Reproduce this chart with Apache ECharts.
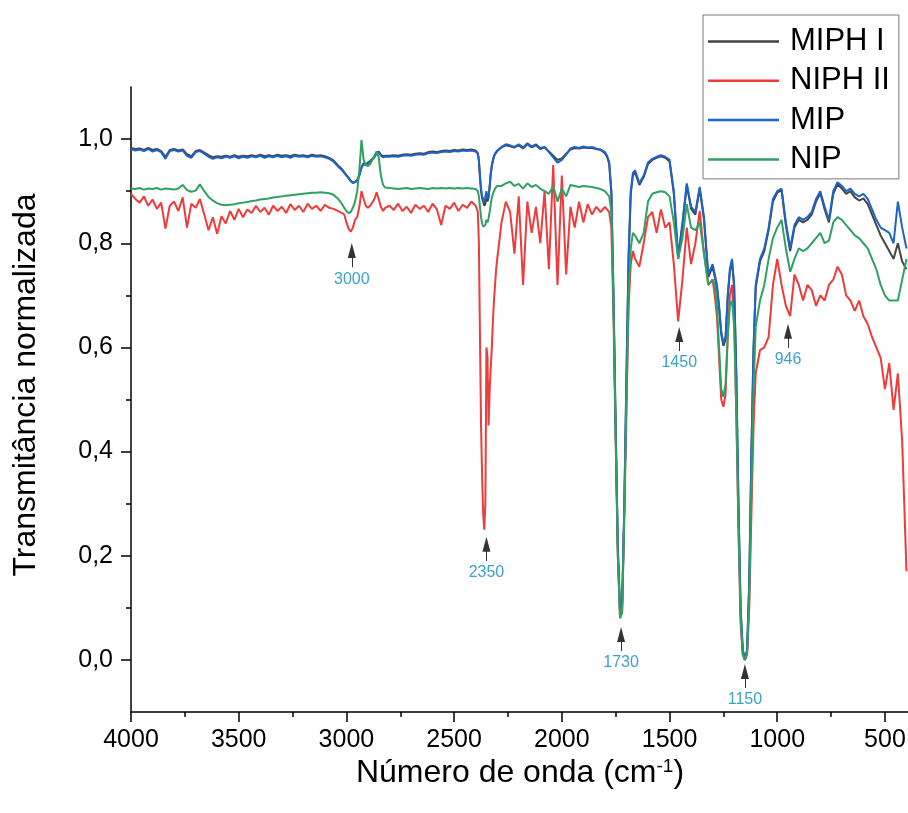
<!DOCTYPE html>
<html>
<head>
<meta charset="utf-8">
<script src="https://cdn.jsdelivr.net/npm/echarts@6/dist/echarts.min.js"></script>
<style>
html,body{margin:0;padding:0;background:#fff;}
#chart{width:908px;height:813px;}
</style>
</head>
<body>
<div id="chart"></div>
<script>
// Wavenumber grid (cm-1)
const wn = [
4000,3980,3960,3940,3920,3900,3880,3860,3840,3820,3800,3780,3760,3740,3720,3700,3680,3660,3640,3620,3600,3580,3560,3540,3520,3500,3480,3460,3440,3420,3400,3380,3360,3340,3320,3300,3280,3260,3240,3220,3200,3180,3160,3140,3120,3100,3080,3060,3040,3020,
3010,3000,2990,2980,2970,2960,2950,2940,2930,2920,2910,2900,2890,2880,2870,2860,2850,2840,2830,2820,
2800,2780,2760,2740,2720,2700,2680,2660,2640,2620,2600,2580,2560,2540,2520,2500,2480,2460,2440,2420,2400,
2395,2390,2385,2380,2375,2370,2365,2360,2355,2350,2345,2340,2335,2330,2325,2320,2315,2310,2305,2300,
2280,2260,2240,2220,2200,2180,2160,2140,2120,2100,2080,2060,2040,2020,2000,1980,1960,1940,1920,1900,1880,1860,1840,1820,1800,
1790,1780,1770,1760,1750,1740,1730,1720,1710,1700,1690,1680,1670,1660,
1640,1620,1600,1580,1560,1540,1520,1500,1480,1460,1440,1420,1400,1380,1360,1340,1320,1300,
1290,1280,1270,1260,1250,1240,1230,1220,1210,1200,1190,1180,1170,1160,1150,1140,1130,1120,1110,1100,
1080,1060,1040,1020,1000,980,960,940,920,900,880,860,840,820,800,780,760,740,720,700,680,660,640,620,600,580,560,540,520,500,480,460,440,420,400
];

const miphI = [
0.983,0.981,0.982,0.979,0.983,0.979,0.981,0.977,0.966,0.979,0.981,0.978,0.980,0.971,0.967,0.977,0.979,0.974,0.969,0.965,0.967,0.966,0.968,0.966,0.969,0.966,0.968,0.967,0.969,0.967,0.970,0.967,0.969,0.967,0.970,0.968,0.969,0.967,0.970,0.968,0.969,0.967,0.970,0.968,0.969,0.967,0.964,0.959,0.950,0.942,
0.936,0.931,0.926,0.920,0.916,0.917,0.921,0.931,0.946,0.954,0.951,0.955,0.958,0.962,0.967,0.974,0.976,0.970,0.967,0.968,
0.968,0.969,0.968,0.970,0.971,0.970,0.972,0.973,0.972,0.975,0.976,0.975,0.977,0.978,0.977,0.979,0.978,0.980,0.979,0.980,0.978,
0.977,0.973,0.958,0.925,0.900,0.886,0.880,0.872,0.876,0.895,0.880,0.888,0.908,0.932,0.948,0.958,0.966,0.971,0.974,0.977,
0.984,0.988,0.986,0.984,0.988,0.982,0.990,0.984,0.988,0.981,0.984,0.976,0.968,0.960,0.963,0.972,0.980,0.983,0.982,0.984,0.983,0.983,0.981,0.979,0.973,
0.966,0.952,0.895,0.690,0.440,0.210,0.095,0.105,0.290,0.540,0.770,0.895,0.930,0.936,
0.912,0.927,0.952,0.960,0.964,0.967,0.964,0.957,0.895,0.770,0.835,0.912,0.866,0.855,0.905,0.845,0.735,0.755,
0.735,0.715,0.675,0.625,0.603,0.615,0.695,0.745,0.765,0.715,0.545,0.295,0.095,0.018,0.000,0.018,0.145,0.395,0.595,0.715,
0.765,0.785,0.825,0.880,0.897,0.902,0.835,0.785,0.830,0.845,0.840,0.845,0.855,0.880,0.896,0.865,0.840,0.895,0.913,0.905,0.895,0.900,0.888,0.882,0.886,0.875,0.855,0.835,0.815,0.800,0.785,0.770,0.800,0.765,0.750
];

const niphII = [
0.895,0.885,0.878,0.890,0.872,0.884,0.866,0.878,0.828,0.872,0.880,0.862,0.888,0.830,0.876,0.868,0.885,0.855,0.825,0.850,0.818,0.852,0.838,0.862,0.845,0.866,0.850,0.865,0.858,0.872,0.860,0.868,0.855,0.872,0.862,0.870,0.858,0.875,0.864,0.872,0.860,0.876,0.866,0.872,0.862,0.874,0.868,0.866,0.862,0.858,
0.855,0.840,0.828,0.822,0.830,0.845,0.850,0.870,0.900,0.885,0.872,0.868,0.872,0.878,0.885,0.898,0.885,0.870,0.862,0.868,
0.872,0.864,0.876,0.862,0.870,0.858,0.874,0.866,0.872,0.860,0.876,0.865,0.835,0.872,0.866,0.878,0.862,0.874,0.868,0.880,0.872,
0.870,0.860,0.800,0.620,0.450,0.350,0.280,0.250,0.300,0.600,0.580,0.450,0.520,0.560,0.600,0.650,0.690,0.720,0.750,0.770,
0.840,0.880,0.860,0.780,0.890,0.720,0.880,0.820,0.870,0.800,0.900,0.750,0.950,0.720,0.930,0.740,0.870,0.830,0.880,0.840,0.875,0.855,0.870,0.860,0.870,
0.865,0.860,0.830,0.660,0.420,0.200,0.085,0.095,0.280,0.480,0.680,0.760,0.785,0.770,
0.755,0.800,0.850,0.860,0.820,0.865,0.830,0.840,0.760,0.650,0.730,0.830,0.760,0.800,0.862,0.780,0.720,0.730,
0.700,0.660,0.580,0.500,0.486,0.510,0.620,0.700,0.720,0.660,0.470,0.250,0.070,0.010,0.000,0.010,0.100,0.280,0.450,0.550,
0.595,0.600,0.620,0.720,0.770,0.720,0.680,0.660,0.740,0.720,0.690,0.720,0.710,0.680,0.700,0.690,0.720,0.730,0.755,0.740,0.700,0.690,0.670,0.690,0.660,0.645,0.620,0.600,0.580,0.520,0.570,0.480,0.550,0.420,0.170
];

const mip = [
0.981,0.978,0.980,0.977,0.981,0.976,0.979,0.975,0.962,0.977,0.979,0.976,0.978,0.968,0.964,0.975,0.977,0.972,0.966,0.962,0.965,0.963,0.966,0.964,0.967,0.963,0.966,0.964,0.967,0.965,0.968,0.964,0.967,0.965,0.968,0.965,0.967,0.964,0.968,0.966,0.967,0.965,0.968,0.966,0.967,0.965,0.962,0.957,0.948,0.940,
0.935,0.930,0.925,0.919,0.916,0.918,0.920,0.930,0.945,0.952,0.950,0.953,0.956,0.960,0.965,0.972,0.975,0.968,0.965,0.966,
0.966,0.967,0.966,0.968,0.969,0.968,0.970,0.971,0.970,0.973,0.974,0.973,0.975,0.976,0.975,0.977,0.976,0.978,0.977,0.978,0.976,
0.975,0.972,0.960,0.930,0.905,0.890,0.885,0.878,0.880,0.900,0.885,0.890,0.910,0.935,0.950,0.960,0.968,0.972,0.975,0.978,
0.985,0.990,0.988,0.985,0.990,0.984,0.992,0.986,0.990,0.983,0.985,0.975,0.965,0.955,0.960,0.970,0.982,0.985,0.983,0.986,0.984,0.985,0.982,0.980,0.975,
0.968,0.955,0.900,0.700,0.450,0.220,0.100,0.110,0.300,0.550,0.780,0.900,0.935,0.940,
0.915,0.930,0.955,0.962,0.966,0.969,0.966,0.960,0.900,0.775,0.840,0.915,0.870,0.860,0.908,0.850,0.740,0.760,
0.740,0.720,0.680,0.630,0.608,0.620,0.700,0.750,0.770,0.720,0.550,0.300,0.100,0.020,0.000,0.020,0.150,0.400,0.600,0.720,
0.770,0.790,0.830,0.885,0.900,0.905,0.840,0.790,0.835,0.850,0.845,0.850,0.860,0.885,0.900,0.870,0.845,0.900,0.917,0.910,0.900,0.905,0.895,0.890,0.895,0.885,0.865,0.845,0.830,0.825,0.820,0.800,0.880,0.830,0.790
];

const nip = [
0.905,0.904,0.906,0.903,0.905,0.904,0.906,0.903,0.905,0.904,0.903,0.905,0.912,0.902,0.899,0.901,0.913,0.900,0.889,0.882,0.877,0.874,0.873,0.874,0.875,0.877,0.878,0.879,0.881,0.882,0.884,0.885,0.886,0.888,0.889,0.890,0.891,0.892,0.893,0.894,0.895,0.896,0.897,0.897,0.898,0.897,0.896,0.893,0.886,0.875,
0.868,0.862,0.858,0.860,0.868,0.880,0.900,0.940,0.998,0.960,0.950,0.948,0.952,0.960,0.968,0.976,0.965,0.930,0.912,0.907,
0.906,0.905,0.904,0.905,0.906,0.904,0.905,0.906,0.905,0.904,0.906,0.905,0.906,0.905,0.906,0.905,0.906,0.905,0.906,0.905,0.904,
0.904,0.900,0.890,0.870,0.850,0.838,0.832,0.830,0.835,0.845,0.840,0.848,0.860,0.875,0.887,0.895,0.900,0.905,0.908,0.910,
0.910,0.915,0.918,0.910,0.914,0.905,0.915,0.908,0.912,0.905,0.900,0.895,0.910,0.880,0.905,0.890,0.912,0.910,0.908,0.910,0.909,0.908,0.906,0.904,0.900,
0.895,0.890,0.860,0.680,0.430,0.200,0.080,0.090,0.280,0.500,0.700,0.790,0.820,0.815,
0.800,0.820,0.880,0.895,0.898,0.900,0.898,0.890,0.840,0.770,0.810,0.875,0.830,0.825,0.840,0.780,0.720,0.730,
0.720,0.680,0.600,0.520,0.505,0.530,0.620,0.680,0.690,0.640,0.480,0.260,0.080,0.010,0.000,0.015,0.120,0.330,0.520,0.640,
0.690,0.720,0.770,0.810,0.830,0.845,0.790,0.745,0.770,0.790,0.785,0.790,0.800,0.810,0.820,0.800,0.805,0.840,0.850,0.845,0.835,0.825,0.815,0.810,0.800,0.790,0.770,0.750,0.720,0.700,0.690,0.690,0.690,0.730,0.770
];

const seriesNames = ['MIPH I', 'NIPH II', 'MIP', 'NIP'];
const xTicks = [4000, 3500, 3000, 2500, 2000, 1500, 1000, 500];
const xMinorTicks = [3750, 3250, 2750, 2250, 1750, 1250, 750];
const yTicks = [0, 0.2, 0.4, 0.6, 0.8, 1.0];
const yMinorTicks = [0.1, 0.3, 0.5, 0.7, 0.9];

// Peak annotations
const peakLabels = ['3000', '2350', '1730', '1450', '1150', '946'];
const peakX = [2975, 2350, 1725, 1455, 1150, 950];
const peakTipY = [0.800, 0.236, 0.063, 0.639, -0.008, 0.645];

const FONT = "'Liberation Sans', Arial, sans-serif";
const colors = ['#454545', '#ee3b3b', '#1e63c6', '#2ea163'];
const values = [miphI, niphII, mip, nip];
const X_MIN = 393, X_MAX = 4000, Y_MIN = -0.1, Y_MAX = 1.1;

const chart = echarts.init(document.getElementById('chart'), null, {renderer: 'canvas'});

const arrowData = peakLabels.map((lab, i) => [
  {coord: [peakX[i], peakTipY[i] - 0.046], name: lab, symbol: 'none'},
  {coord: [peakX[i], peakTipY[i] - 0.014], symbol: 'triangle'}
]);

const series = seriesNames.map((name, k) => ({
  name: name,
  type: 'line',
  xAxisIndex: 0,
  yAxisIndex: 0,
  data: wn.map((x, i) => [x, values[k][i]]),
  showSymbol: false,
  symbol: 'none',
  sampling: null,
  lineStyle: {width: 2, color: colors[k]},
  itemStyle: {color: colors[k]},
  animation: false
}));

series[3].markLine = {
  silent: true,
  animation: false,
  symbol: ['none', 'triangle'],
  symbolSize: [8, 15],
  lineStyle: {color: '#333', width: 1, type: 'solid'},
  itemStyle: {color: '#000'},
  label: {
    show: true,
    position: 'start',
    formatter: '{b}',
    color: '#3ba3c8',
    fontSize: 16,
    fontFamily: FONT,
    distance: 4
  },
  emphasis: {disabled: true},
  data: arrowData
};

const axisBlack = {color: '#000', width: 1.5};

const option = {
  backgroundColor: '#fff',
  animation: false,
  grid: {left: 131, top: 87, right: 0, height: 625, outerBoundsMode: 'none', containLabel: false},
  xAxis: [{
    type: 'value',
    min: X_MIN,
    max: X_MAX,
    inverse: true,
    position: 'bottom',
    axisLine: {show: true, onZero: false, lineStyle: axisBlack},
    axisTick: {show: true, inside: false, length: 10, customValues: xTicks, lineStyle: axisBlack},
    axisLabel: {
      customValues: xTicks,
      formatter: v => String(v),
      color: '#000', fontSize: 25, fontFamily: FONT, margin: 16
    },
    splitLine: {show: false}
  }, {
    type: 'value',
    min: X_MIN,
    max: X_MAX,
    inverse: true,
    position: 'bottom',
    axisLine: {show: false, onZero: false},
    axisTick: {show: true, inside: false, length: 5, customValues: xMinorTicks, lineStyle: axisBlack},
    axisLabel: {show: false},
    splitLine: {show: false}
  }],
  yAxis: [{
    type: 'value',
    min: Y_MIN,
    max: Y_MAX,
    position: 'left',
    axisLine: {show: true, onZero: false, lineStyle: axisBlack},
    axisTick: {show: true, inside: false, length: 10, customValues: yTicks, lineStyle: axisBlack},
    axisLabel: {
      customValues: yTicks,
      formatter: v => v.toFixed(1).replace('.', ','),
      color: '#000', fontSize: 25, fontFamily: FONT, margin: 18
    },
    splitLine: {show: false}
  }, {
    type: 'value',
    min: Y_MIN,
    max: Y_MAX,
    position: 'left',
    axisLine: {show: false, onZero: false},
    axisTick: {show: true, inside: false, length: 5, customValues: yMinorTicks, lineStyle: axisBlack},
    axisLabel: {show: false},
    splitLine: {show: false}
  }],
  legend: {
    data: seriesNames,
    orient: 'vertical',
    left: 703,
    top: 15,
    icon: 'rect',
    itemWidth: 71,
    itemHeight: 2.5,
    itemGap: 0.3,
    padding: [7, 9, 0, 5],
    backgroundColor: '#fff',
    borderColor: '#7a7a7a',
    borderWidth: 1,
    borderRadius: 0,
    selectedMode: false,
    textStyle: {color: '#000', fontSize: 31, fontFamily: FONT, lineHeight: 39, padding: [0, 0, 0, 6]}
  },
  graphic: [{
    type: 'text',
    x: 520,
    y: 773,
    style: {
      text: 'Número de onda (cm{sup|-1})',
      fill: '#000',
      fontSize: 32,
      fontFamily: FONT,
      align: 'center',
      verticalAlign: 'middle',
      textAlign: 'center',
      textVerticalAlign: 'middle',
      rich: {sup: {fontSize: 19, fontFamily: FONT, fill: '#000', verticalAlign: 'top', lineHeight: 32}}
    }
  }, {
    type: 'text',
    x: 26,
    y: 385,
    rotation: Math.PI / 2,
    style: {
      text: 'Transmitância normalizada',
      fill: '#000',
      fontSize: 32,
      fontFamily: FONT,
      align: 'center',
      verticalAlign: 'middle',
      textAlign: 'center',
      textVerticalAlign: 'middle'
    }
  }],
  series: series
};

chart.setOption(option);
</script>
</body>
</html>
